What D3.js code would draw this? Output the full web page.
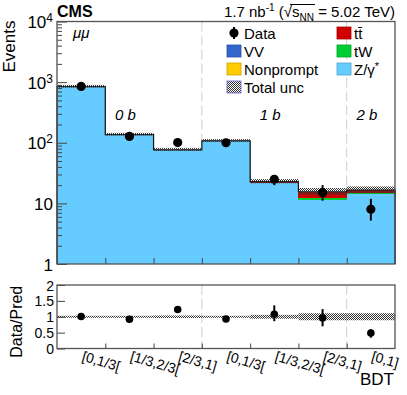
<!DOCTYPE html>
<html>
<head>
<meta charset="utf-8">
<script src="https://cdn.jsdelivr.net/npm/d3@7"></script>
<style>
  body { margin: 0; background: #fff; }
  text { font-family: "Liberation Sans", Arial, sans-serif; fill: #000; }
</style>
</head>
<body>
<svg id="chart" width="407" height="395"></svg>
<script>
// bins of the BDT distribution, grouped by b-jet multiplicity
const binLabels = ["[0,1/3[", "[1/3,2/3[", "[2/3,1]", "[0,1/3[", "[1/3,2/3[", "[2/3,1]", "[0,1]"];
const regions = [
  { label: "0 b", from: 0, to: 3 },
  { label: "1 b", from: 3, to: 6 },
  { label: "2 b", from: 6, to: 7 },
];

// observed
const dataVals = [850, 127, 101, 100, 25, 15, 8];
const dataLo = [822, 116, 91, 90, 20, 11.1, 5.2];
const dataHi = [879, 139, 111, 110, 29, 20, 11.9];

// predicted, stacked bottom to top
const zgamma = [838, 135, 75.5, 105, 21.6, 11.4, 14.4];
const nonprompt = [0.6, 0.2, 0.1, 0.2, 0.1, 0.05, 0.05];
const vv = [1.2, 0.3, 0.2, 0.4, 0.1, 0.1, 0.05];
const tw = [0.6, 0.2, 0.1, 0.4, 0.2, 0.6, 0.1];
const ttbar = [1.5, 0.5, 0.3, 1.4, 0.8, 3.4, 1.9];
const totalUnc = [0.03, 0.03, 0.04, 0.03, 0.06, 0.11, 0.11];

// data / prediction
const ratioVals = [1.01, 0.92, 1.23, 0.93, 1.08, 0.96, 0.49];
const ratioLo = [0.98, 0.89, 1.12, 0.9, 0.86, 0.7, 0.34];
const ratioHi = [1.04, 0.95, 1.32, 0.96, 1.36, 1.24, 0.6];

const yTicks = [1, 10, 100, 1000, 10000];
const ratioTicks = [0, 0.5, 1, 1.5, 2];

const width = 407;
const height = 395;
const marginLeft = 57;
const marginRight = 12;
const mainTop = 21.5;
const mainBottom = 264;
const ratioTop = 285;
const ratioBottom = 348.5;

const svg = d3.select("#chart");

const defs = svg.append("defs");
const hatch = defs
  .append("pattern")
  .attr("id", "hatch")
  .attr("width", 2)
  .attr("height", 2)
  .attr("patternUnits", "userSpaceOnUse");
hatch.append("rect").attr("width", 1).attr("height", 1).attr("fill", "#333");
hatch.append("rect").attr("x", 1).attr("y", 1).attr("width", 1).attr("height", 1).attr("fill", "#333");

const x = d3
  .scaleLinear()
  .domain([0, binLabels.length])
  .range([marginLeft, width - marginRight]);

const y = d3.scaleLog().domain([1, 10000]).range([mainBottom, mainTop]);
const yr = d3.scaleLinear().domain([0, 2]).range([ratioBottom, ratioTop]);

const processes = [
  { name: "Z/γ*", values: zgamma, color: "#66ccff" },
  { name: "Nonprompt", values: nonprompt, color: "#ffcc00" },
  { name: "VV", values: vv, color: "#3366cc" },
  { name: "tW", values: tw, color: "#00cc33" },
  { name: "tt", values: ttbar, color: "#d00000" },
];

const bins = binLabels.map((label, i) => ({ i, label }));
const totals = bins.map((b) => d3.sum(processes, (p) => p.values[b.i]));

// region separators (drawn first, the stack hides them)
[3, 6].forEach((b) => {
  [[mainTop, mainBottom], [ratioTop, ratioBottom]].forEach(([t, bt]) => {
    svg
      .append("line")
      .attr("x1", x(b))
      .attr("x2", x(b))
      .attr("y1", t)
      .attr("y2", bt)
      .attr("stroke", "#cfcfcf")
      .attr("stroke-width", 1)
      .attr("stroke-dasharray", "10,4");
  });
});

// ---- main panel ----
const stack = svg.append("g").attr("shape-rendering", "crispEdges");
processes.forEach((p, k) => {
  stack
    .append("g")
    .selectAll("rect")
    .data(bins)
    .join("rect")
    .attr("x", (d) => x(d.i))
    .attr("width", (d) => x(d.i + 1) - x(d.i) + 0.5)
    .attr("y", (d) => {
      const below = d3.sum(processes.slice(0, k), (q) => q.values[d.i]);
      return y(below + p.values[d.i]);
    })
    .attr("height", (d) => {
      const below = d3.sum(processes.slice(0, k), (q) => q.values[d.i]);
      return y(Math.max(below, 1)) - y(below + p.values[d.i]);
    })
    .attr("fill", p.color);
});

// outline of the total
const step = [];
bins.forEach((d) => {
  step.push([x(d.i), y(totals[d.i])]);
  step.push([x(d.i + 1), y(totals[d.i])]);
});
svg
  .append("path")
  .attr("d", d3.line()([[x(0), mainBottom], ...step, [x(bins.length), mainBottom]]))
  .attr("fill", "none")
  .attr("stroke", "#111")
  .attr("stroke-width", 1.2);

svg
  .append("g")
  .selectAll("rect")
  .data(bins)
  .join("rect")
  .attr("x", (d) => x(d.i))
  .attr("width", (d) => x(d.i + 1) - x(d.i))
  .attr("y", (d) => y(totals[d.i] * (1 + totalUnc[d.i])) - 1)
  .attr("height", (d) => y(totals[d.i] * (1 - totalUnc[d.i])) - y(totals[d.i] * (1 + totalUnc[d.i])) + 1)
  .attr("fill", "url(#hatch)");

// data points
const pts = svg.append("g");
pts
  .selectAll("line")
  .data(bins)
  .join("line")
  .attr("x1", (d) => x(d.i + 0.5))
  .attr("x2", (d) => x(d.i + 0.5))
  .attr("y1", (d) => y(dataLo[d.i]))
  .attr("y2", (d) => y(dataHi[d.i]))
  .attr("stroke", "#000")
  .attr("stroke-width", 2);
pts
  .selectAll("circle")
  .data(bins)
  .join("circle")
  .attr("cx", (d) => x(d.i + 0.5))
  .attr("cy", (d) => y(dataVals[d.i]))
  .attr("r", 4.6)
  .attr("fill", "#000");

// axes
const yAxis = svg
  .append("g")
  .attr("transform", `translate(${marginLeft},0)`)
  .call(d3.axisLeft(y).tickValues(yTicks).tickSize(-10).tickPadding(4).tickFormat((d) => d));
yAxis.select(".domain").remove();
yAxis.selectAll(".tick line").attr("stroke", "#444");
yAxis.selectAll(".tick text").each(function (d) {
  const t = d3.select(this).style("font-size", "17px").attr("dy", "0.36em").text("");
  const e = Math.round(Math.log10(d));
  if (e < 2) {
    t.text(d);
  } else {
    t.append("tspan").text("10");
    t.append("tspan").attr("dy", "-0.5em").style("font-size", "12px").text(e);
  }
});

const minor = [];
for (let e = 0; e < 4; e++) for (let m = 2; m < 10; m++) minor.push(m * Math.pow(10, e));
const yMinor = svg
  .append("g")
  .attr("transform", `translate(${marginLeft},0)`)
  .call(d3.axisLeft(y).tickValues(minor).tickSize(-5).tickFormat(""));
yMinor.select(".domain").remove();
yMinor.selectAll(".tick line").attr("stroke", "#444");

[[mainTop, mainBottom, 6], [ratioTop, ratioBottom, 5]].forEach(([t, bt, len]) => {
  const g = svg
    .append("g")
    .attr("transform", `translate(0,${bt})`)
    .call(d3.axisBottom(x).tickValues(d3.range(1, bins.length)).tickSize(-len).tickFormat(""));
  g.select(".domain").remove();
  g.selectAll(".tick line").attr("stroke", "#444");
});

svg
  .append("rect")
  .attr("x", marginLeft)
  .attr("y", mainTop)
  .attr("width", width - marginRight - marginLeft)
  .attr("height", mainBottom - mainTop)
  .attr("fill", "none")
  .attr("stroke", "#555")
  .attr("stroke-width", 1.3);

svg
  .append("text")
  .attr("transform", `translate(15,${mainTop - 1}) rotate(-90)`)
  .attr("text-anchor", "end")
  .style("font-size", "17px")
  .text("Events");

// region + channel labels
svg
  .append("g")
  .selectAll("text")
  .data(regions)
  .join("text")
  .attr("x", (d) => x((d.from + d.to) / 2) - 4)
  .attr("y", 120)
  .attr("text-anchor", "middle")
  .style("font-size", "15px")
  .style("font-style", "italic")
  .text((d) => d.label);

svg
  .append("text")
  .attr("x", 73)
  .attr("y", 38)
  .style("font-size", "15px")
  .style("font-style", "italic")
  .text("μμ");

// legend
const legendItems = [
  { name: "Data", type: "data", col: 0, row: 0 },
  { name: "VV", color: "#3366cc", col: 0, row: 1 },
  { name: "Nonprompt", color: "#ffcc00", col: 0, row: 2 },
  { name: "Total unc", type: "unc", col: 0, row: 3 },
  { name: "tt\u0304", color: "#d00000", col: 1, row: 0 },
  { name: "tW", color: "#00cc33", col: 1, row: 1 },
  { name: "Z/γ", sup: "*", color: "#66ccff", col: 1, row: 2 },
];
const legend = svg.append("g");
legendItems.forEach((d) => {
  const bx = d.col === 0 ? 227 : 337;
  const cy = 33 + d.row * 18;
  if (d.type === "data") {
    legend.append("line").attr("x1", bx + 7).attr("x2", bx + 7).attr("y1", cy - 6).attr("y2", cy + 6).attr("stroke", "#000").attr("stroke-width", 2);
    legend.append("circle").attr("cx", bx + 7).attr("cy", cy).attr("r", 4.6).attr("fill", "#000");
  } else {
    legend
      .append("rect")
      .attr("x", bx)
      .attr("y", cy - 6)
      .attr("width", 14)
      .attr("height", 12)
      .attr("fill", d.type === "unc" ? "url(#hatch)" : d.color)
      .attr("stroke", d.type === "unc" ? "#6666cc" : d3.color(d.color).darker(0.6))
      .attr("stroke-width", 0.8);
  }
  const t = legend
    .append("text")
    .attr("x", bx + 17)
    .attr("y", cy + 5.5)
    .style("font-size", "15px")
    .text(d.name);
  if (d.sup) t.append("tspan").attr("dy", "-0.45em").style("font-size", "11px").text(d.sup);
});

// header
svg
  .append("text")
  .attr("x", marginLeft)
  .attr("y", 17)
  .style("font-size", "16px")
  .style("font-weight", "bold")
  .text("CMS");

const lumi = svg
  .append("text")
  .attr("x", width - marginRight)
  .attr("y", 17)
  .attr("text-anchor", "end")
  .style("font-size", "15px");
lumi.append("tspan").text("1.7 nb");
lumi.append("tspan").attr("dy", -6).style("font-size", "10px").text("-1");
lumi.append("tspan").attr("dy", 6).text(" (√");
lumi.append("tspan").text("s");
lumi.append("tspan").attr("dy", 4).style("font-size", "10px").text("NN");
lumi.append("tspan").attr("dy", -4).text(" = 5.02 TeV)");
const ln = lumi.node();
const sq = ln.getExtentOfChar(10);
const nn = ln.getExtentOfChar(13);
svg
  .append("line")
  .attr("x1", sq.x + sq.width * 0.75)
  .attr("x2", nn.x + nn.width + 1)
  .attr("y1", 17 - 12.5)
  .attr("y2", 17 - 12.5)
  .attr("stroke", "#000")
  .attr("stroke-width", 1);

// ---- ratio panel ----
svg
  .append("g")
  .selectAll("rect")
  .data(bins)
  .join("rect")
  .attr("x", (d) => x(d.i))
  .attr("width", (d) => x(d.i + 1) - x(d.i))
  .attr("y", (d) => yr(1 + totalUnc[d.i]))
  .attr("height", (d) => Math.max(yr(1 - totalUnc[d.i]) - yr(1 + totalUnc[d.i]), 2))
  .attr("fill", "url(#hatch)");

const rpts = svg.append("g");
rpts
  .selectAll("line")
  .data(bins)
  .join("line")
  .attr("x1", (d) => x(d.i + 0.5))
  .attr("x2", (d) => x(d.i + 0.5))
  .attr("y1", (d) => yr(ratioLo[d.i]))
  .attr("y2", (d) => yr(ratioHi[d.i]))
  .attr("stroke", "#000")
  .attr("stroke-width", 2);
rpts
  .selectAll("circle")
  .data(bins)
  .join("circle")
  .attr("cx", (d) => x(d.i + 0.5))
  .attr("cy", (d) => yr(ratioVals[d.i]))
  .attr("r", 3.8)
  .attr("fill", "#000");

const rAxis = svg
  .append("g")
  .attr("transform", `translate(${marginLeft},0)`)
  .call(d3.axisLeft(yr).tickValues(ratioTicks).tickSize(-8).tickPadding(3).tickFormat((d) => d));
rAxis.select(".domain").remove();
rAxis.selectAll(".tick line").attr("stroke", "#444");
rAxis.selectAll(".tick text").style("font-size", "14px").attr("dy", "0.36em");

svg
  .append("rect")
  .attr("x", marginLeft)
  .attr("y", ratioTop)
  .attr("width", width - marginRight - marginLeft)
  .attr("height", ratioBottom - ratioTop)
  .attr("fill", "none")
  .attr("stroke", "#555")
  .attr("stroke-width", 1.3);

svg
  .append("text")
  .attr("transform", `translate(22,${(ratioTop + ratioBottom) / 2 + 5}) rotate(-90)`)
  .attr("text-anchor", "middle")
  .style("font-size", "16px")
  .text("Data/Pred");

svg
  .append("g")
  .selectAll("text")
  .data(bins)
  .join("text")
  .attr("transform", (d) => `translate(${x(d.i + 0.5)},${ratioBottom + 12}) rotate(16)`)
  .style("font-size", "14px")
  .text((d) => d.label);

svg
  .append("text")
  .attr("x", width - marginRight - 1)
  .attr("y", 385)
  .attr("text-anchor", "end")
  .style("font-size", "17px")
  .text("BDT");
</script>
</body>
</html>
